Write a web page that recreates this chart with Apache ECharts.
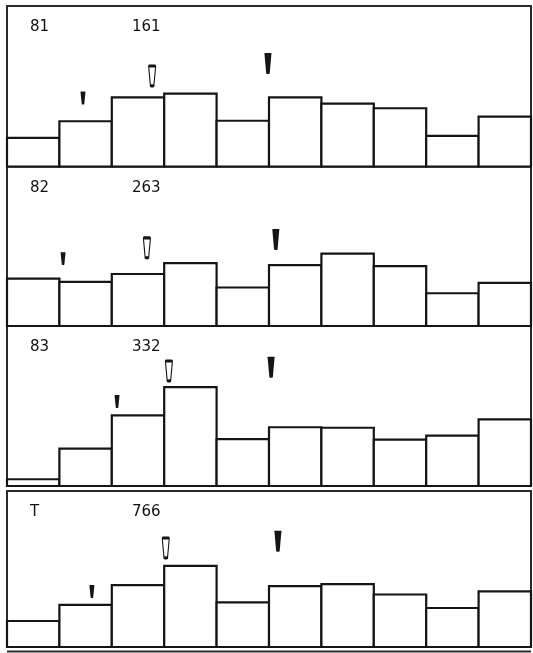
<!DOCTYPE html>
<html>
<head>
<meta charset="utf-8">
<script src="https://cdn.jsdelivr.net/npm/echarts@6/dist/echarts.min.js"></script>
<style>html,body{margin:0;padding:0;background:#fff;}#c{width:533px;height:653px;}</style>
</head>
<body>
<div id="c"></div>
<script>
// ---- data ----
const categories = ['1','2','3','4','5','6','7','8','9','10'];
const panelNames = ['81', '82', '83', 'T'];
const panelCounts = [161, 263, 332, 766];
const values81 = [5.5, 8.7, 13.3, 14.0, 8.8, 13.3, 12.1, 11.2, 5.9, 9.6];
const values82 = [9.1, 8.5, 10.0, 12.1, 7.4, 11.7, 13.9, 11.5, 6.3, 8.3];
const values83 = [1.3, 7.2, 13.6, 19.0, 9.0, 11.3, 11.2, 8.9, 9.7, 12.8];
const valuesT  = [5.0, 8.1, 11.9, 15.6, 8.6, 11.7, 12.1, 10.1, 7.5, 10.7];
// marker positions [x in bar units, y in %]
const smallFilled = [[1.45, 11.9], [1.07, 11.7], [2.10, 15.0], [1.62, 9.4]];
const hollowMark  = [[2.77, 15.5], [2.67, 13.1], [3.09, 20.2], [3.03, 17.1]];
const largeFilled = [[4.98, 17.8], [5.13, 14.6], [5.04, 20.8], [5.17, 18.3]];

const panelValues = [values81, values82, values83, valuesT];

// ---- layout ----
const panels = [
  {top: 6, bottom: 166.5},
  {top: 166.5, bottom: 326},
  {top: 326, bottom: 486},
  {top: 491, bottom: 647}
];
const pxPerUnit = 5.2;
const LEFT = 7, RIGHT = 531;
const ink = '#151515';
const wedge = 'path://M0,1 Q0,0 1,0 L9,0 Q10,0 10,1 L7.5,39 Q5,41 2.5,39 Z';

function renderBar(params, api) {
  const idx = api.value(0);
  const val = api.value(1);
  const bw = api.size([1, 0])[0];
  const topPt = api.coord([idx, val]);
  const basePt = api.coord([idx, 0]);
  return {
    type: 'rect',
    shape: {x: topPt[0] - bw / 2, y: topPt[1], width: bw, height: basePt[1] - topPt[1]},
    style: {fill: '#fff', stroke: ink, lineWidth: 2.2}
  };
}

const grid = [], xAxis = [], yAxis = [], series = [], graphic = [];
panels.forEach((p, i) => {
  const h = p.bottom - p.top;
  grid.push({left: LEFT, top: p.top, width: RIGHT - LEFT, height: h,
    show: true, borderColor: '#2a2a2a', borderWidth: 2, backgroundColor: 'transparent'});
  xAxis.push({type: 'category', gridIndex: i, data: categories, show: false, boundaryGap: true});
  xAxis.push({type: 'value', gridIndex: i, min: 0, max: 10, show: false});
  yAxis.push({type: 'value', gridIndex: i, min: 0, max: h / pxPerUnit, show: false});
  series.push({type: 'custom', xAxisIndex: 2 * i, yAxisIndex: i, silent: true,
    data: panelValues[i].map((v, k) => [k, v]), renderItem: renderBar,
    encode: {x: 0, y: 1}});
  series.push({type: 'scatter', xAxisIndex: 2 * i + 1, yAxisIndex: i, data: [smallFilled[i]],
    symbol: wedge, symbolSize: [5, 13], symbolOffset: [0, '-50%'], z: 5,
    itemStyle: {color: ink, opacity: 1}});
  series.push({type: 'scatter', xAxisIndex: 2 * i + 1, yAxisIndex: i, data: [hollowMark[i]],
    symbol: wedge, symbolSize: [7, 20], symbolOffset: [0, '-50%'], z: 5,
    itemStyle: {color: '#fff', borderColor: ink, borderWidth: 1.8, opacity: 1}});
  series.push({type: 'scatter', xAxisIndex: 2 * i + 1, yAxisIndex: i, data: [largeFilled[i]],
    symbol: wedge, symbolSize: [7, 21], symbolOffset: [0, '-50%'], z: 5,
    itemStyle: {color: ink, opacity: 1}});
  const ty = p.top + 23;
  graphic.push({type: 'text', left: 30, top: ty - 9,
    style: {text: panelNames[i], font: '15px "DejaVu Sans"', fill: '#111'}});
  graphic.push({type: 'text', left: 132, top: ty - 9,
    style: {text: String(panelCounts[i]), font: '15px "DejaVu Sans"', fill: '#111'}});
});
graphic.push({type: 'line', shape: {x1: LEFT, y1: 651.5, x2: RIGHT, y2: 651.5},
  style: {stroke: '#2a2a2a', lineWidth: 2}});

const chart = echarts.init(document.getElementById('c'), null, {renderer: 'canvas'});
chart.setOption({animation: false, grid, xAxis, yAxis, series, graphic});
</script>
</body>
</html>
